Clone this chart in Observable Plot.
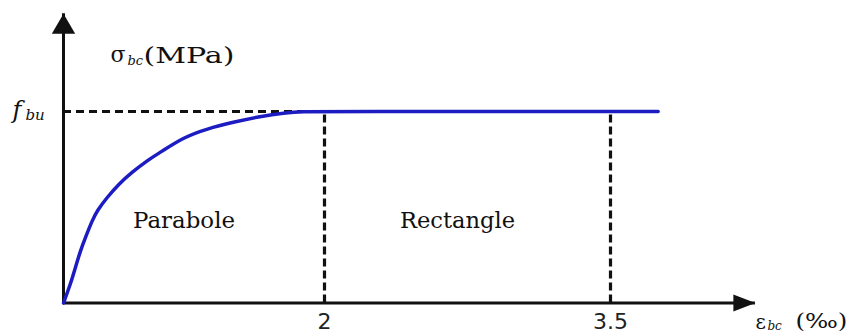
<!DOCTYPE html>
<html>
<head>
<meta charset="utf-8">
<script src="https://cdn.jsdelivr.net/npm/d3@7"></script>
<script src="https://cdn.jsdelivr.net/npm/@observablehq/plot@0.6"></script>
<style>
  html, body { margin: 0; padding: 0; background: #fff; overflow: hidden; }
</style>
</head>
<body>
<div id="chart"></div>
<script>
// Parabola–rectangle law for concrete: strain ε_bc (‰) against stress σ_bc / f_bu
const strain = [0, 0.054, 0.092, 0.13, 0.169, 0.22, 0.258, 0.335, 0.424, 0.526, 0.641, 0.743, 0.922, 1.10, 1.30, 1.51, 1.69, 1.84, 2.0, 3.75];
const stress = [0, 0.10, 0.187, 0.274, 0.344, 0.431, 0.483, 0.552, 0.622, 0.683, 0.744, 0.787, 0.866, 0.91, 0.944, 0.975, 0.993, 1.0, 1.0, 1.0];

// Strain ticks: end of the parabola and ultimate strain
const xTicks = [2, 3.5];
// Design strength (normalised)
const fbu = 1;

// Named zones of the diagram
const regionNames = ["Parabole", "Rectangle"];
const regionFrom = [0, 2];
const regionTo = [2, 3.5];

// Extent of the drawn axes
const xAxisEnd = 4.26;
const yAxisEnd = 1.51;

const curve = strain.map((e, i) => ({e, s: stress[i]}));
const regions = regionNames.map((name, i) => ({name, mid: (regionFrom[i] + regionTo[i]) / 2}));

// Filled arrowheads whose tip sits on the anchor point
const headUp = {
  draw(ctx, size) {
    const r = Math.sqrt(size / Math.PI);
    const h = 2.2 * r, w = 1.3 * r;
    ctx.moveTo(0, 0); ctx.lineTo(w, h); ctx.lineTo(-w, h); ctx.closePath();
  }
};
const headRight = {
  draw(ctx, size) {
    const r = Math.sqrt(size / Math.PI);
    const h = 2.45 * r, w = 0.95 * r;
    ctx.moveTo(0, 0); ctx.lineTo(-h, -w); ctx.lineTo(-h, w); ctx.closePath();
  }
};

const ink = "#111";
const serif = "DejaVu Serif";

const chart = Plot.plot({
  width: 850,
  height: 334,
  marginLeft: 63,
  marginRight: 95,
  marginTop: 13,
  marginBottom: 31.5,
  style: {fontFamily: "DejaVu Sans", fontSize: "22px", color: "#222", background: "#fff"},
  x: {
    type: "linear",
    domain: [0, ...xTicks],
    range: [63, 324, 610],
    ticks: xTicks,
    tickFormat: d => String(d),
    tickSize: 0,
    tickPadding: 10,
    label: null
  },
  y: {domain: [0, fbu], range: [302.5, 111], axis: null},
  marks: [
    // reference lines at f_bu and at the two characteristic strains
    Plot.ruleY([fbu], {x1: 0, x2: xTicks[0], stroke: ink, strokeWidth: 3.2, strokeDasharray: "8,5"}),
    Plot.ruleX(xTicks, {y1: 0, y2: fbu, stroke: ink, strokeWidth: 3.2, strokeDasharray: "8,4"}),

    // axes with arrowheads
    Plot.ruleY([0], {x1: 0, x2: xAxisEnd, stroke: ink, strokeWidth: 3}),
    Plot.ruleX([0], {y1: 0, y2: yAxisEnd, stroke: ink, strokeWidth: 3}),
    Plot.dot([{x: xAxisEnd, y: 0}], {x: "x", y: "y", r: 9, symbol: headRight, fill: ink, stroke: "none"}),
    Plot.dot([{x: 0, y: yAxisEnd}], {x: "x", y: "y", r: 9, symbol: headUp, fill: ink, stroke: "none"}),

    // stress–strain curve
    Plot.line(curve, {x: "e", y: "s", stroke: "#1c1cc2", strokeWidth: 3.5, curve: "basis"}),

    // zone names
    Plot.text(regions, {x: "mid", y: 0.43, text: "name", dx: -10, fontFamily: serif, fontSize: 22, fill: ink}),

    // y-axis title: σbc (MPa)
    Plot.text(["σ"], {x: () => 0, y: () => fbu, text: d => d, dx: 47, dy: -57, textAnchor: "start", fontFamily: serif, fontSize: 22, fill: ink}),
    Plot.text(["bc"], {x: () => 0, y: () => fbu, text: d => d, dx: 64, dy: -51, textAnchor: "start", fontFamily: serif, fontStyle: "italic", fontSize: 13, fill: ink}),
    Plot.text(["(MPa)"], {x: () => 0, y: () => fbu, text: d => d, dx: 80, dy: -56, textAnchor: "start", fontFamily: serif, fontSize: 22, fill: ink}),

    // f_bu label
    Plot.text(["f"], {x: () => 0, y: () => fbu, text: d => d, dx: -51, dy: -1, textAnchor: "start", fontFamily: serif, fontStyle: "italic", fontSize: 24, fill: ink}),
    Plot.text(["bu"], {x: () => 0, y: () => fbu, text: d => d, dx: -38, dy: 4, textAnchor: "start", fontFamily: serif, fontStyle: "italic", fontSize: 15, fill: ink}),

    // x-axis title: εbc (‰)
    Plot.text(["ε"], {x: () => xAxisEnd, y: () => 0, text: d => d, dx: 0, dy: 20, textAnchor: "start", fontFamily: serif, fontSize: 20, fill: ink}),
    Plot.text(["bc"], {x: () => xAxisEnd, y: () => 0, text: d => d, dx: 12, dy: 23, textAnchor: "start", fontFamily: serif, fontStyle: "italic", fontSize: 12, fill: ink}),
    Plot.text(["(‰)"], {x: () => xAxisEnd, y: () => 0, text: d => d, dx: 40, dy: 19, textAnchor: "start", fontFamily: serif, fontSize: 20, fill: ink})
  ]
});

// the serif titles are set wide
const stretched = {"(MPa)": 91, "Parabole": 102, "Rectangle": 115, "(‰)": 52};
d3.select(chart).selectAll("text").each(function () {
  const w = stretched[this.textContent];
  if (w) d3.select(this).attr("textLength", w).attr("lengthAdjust", "spacingAndGlyphs");
});

document.getElementById("chart").appendChild(chart);
</script>
</body>
</html>
